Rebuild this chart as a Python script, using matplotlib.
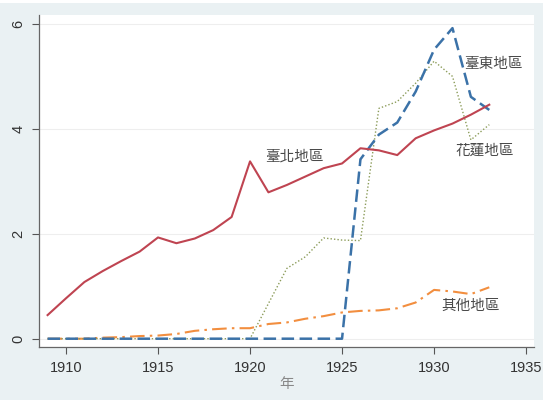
import matplotlib
matplotlib.use("Agg")
import matplotlib.pyplot as plt
from matplotlib.patches import Rectangle

plt.rcParams['font.family'] = ['Liberation Sans', 'Noto Sans CJK TC', 'DejaVu Sans']

years = list(range(1909, 1934))
taipei = [0.45, 0.77, 1.08, 1.29, 1.48, 1.66, 1.93, 1.82, 1.91, 2.07, 2.32, 3.38,
          2.79, 2.93, 3.09, 3.25, 3.34, 3.63, 3.59, 3.50, 3.82, 3.97, 4.10, 4.27, 4.46]
taitung = [0]*17 + [3.42, 3.89, 4.12, 4.71, 5.51, 5.92, 4.61, 4.36]
hualien = [0]*12 + [0.67, 1.34, 1.56, 1.92, 1.88, 1.87, 4.39, 4.52, 4.87, 5.29, 5.00, 3.79, 4.08]
other = [0.0, 0.0, 0.0, 0.02, 0.03, 0.05, 0.06, 0.09, 0.15, 0.18, 0.20, 0.20,
         0.28, 0.31, 0.38, 0.43, 0.50, 0.53, 0.54, 0.58, 0.69, 0.93, 0.90, 0.85, 0.98]

labels = ['臺北地區', '臺東地區', '花蓮地區', '其他地區']
label_pos = [(1922.43, 3.47), (1933.22, 5.24), (1932.77, 3.58), (1931.96, 0.62)]
xticks = [1910, 1915, 1920, 1925, 1930, 1935]
yticks = [0, 2, 4, 6]
xlabel = '年'

fig = plt.figure(figsize=(5.5, 4.05), dpi=100)
fig.patch.set_facecolor('white')
fig.patches.append(Rectangle((0, 1 - 400/405), 543/550, (397)/405, transform=fig.transFigure,
                             facecolor='#eaf1f3', edgecolor='none', zorder=-10))
ax = fig.add_axes([39.3/550, 1 - 347.3/405, (534 - 39.3)/550, (347.3 - 15)/405])
ax.set_facecolor('white')

ax.plot(years, other, color='#f28e3f', lw=1.5, dashes=(7, 2.5, 1.2, 2.5), zorder=2)
ax.plot(years, hualien, color='#8c9c5a', lw=1.0, linestyle=(0, (1, 1.5)), zorder=3)
ax.plot(years, taitung, color='#3b72a8', lw=1.8, dashes=(5, 2.2), zorder=4)
ax.plot(years, taipei, color='#bf4451', lw=1.5, zorder=5)

for t, (x, y) in zip(labels, label_pos):
    ax.text(x, y, t, ha='center', va='center', fontsize=10.5, color='#4a4a4a',
            family=['Noto Sans CJK TC', 'DejaVu Sans'])

ax.set_xlim(1908.55, 1935.43)
ax.set_ylim(-0.164, 6.17)
ax.set_xticks(xticks)
ax.set_yticks(yticks)
ax.set_yticklabels([str(v) for v in yticks], rotation=90, va='center')
ax.tick_params(axis='both', colors='#555555', labelcolor='#333333', labelsize=10.5,
               length=5, width=0.8)
ax.tick_params(axis='x', pad=5)
ax.tick_params(axis='y', pad=5)
ax.grid(axis='y', color='#eeeeee', lw=0.8)
ax.set_axisbelow(True)
for s in ['top', 'right']:
    ax.spines[s].set_visible(False)
for s in ['left', 'bottom']:
    ax.spines[s].set_color('#666666')
    ax.spines[s].set_linewidth(0.9)
ax.set_xlabel(xlabel, family=['Noto Sans CJK TC', 'DejaVu Sans'], fontsize=10.5,
              color='#888888', labelpad=1)

fig.savefig('out.png', dpi=100, facecolor=fig.get_facecolor())
